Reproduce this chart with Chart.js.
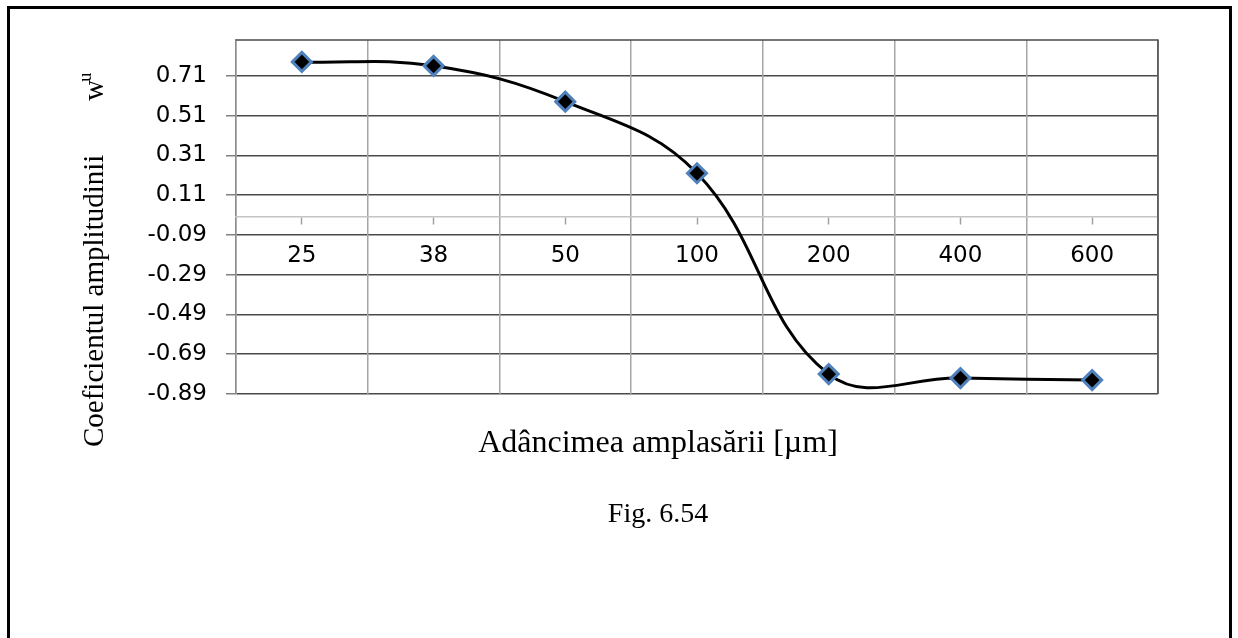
<!DOCTYPE html>
<html>
<head>
<meta charset="utf-8">
<script src="https://cdn.jsdelivr.net/npm/chart.js@4"></script>
<style>
  html, body { margin: 0; padding: 0; background: #ffffff; }
  canvas { display: block; }
</style>
</head>
<body>
<canvas id="c" width="1238" height="638"></canvas>
<script>
// Depth of placement (µm) and the amplitude coefficient w_u
const categories = ['25', '38', '50', '100', '200', '400', '600'];
const amplitude = [0.78, 0.76, 0.58, 0.22, -0.79, -0.81, -0.82];
const yTickValues = [-0.89, -0.69, -0.49, -0.29, -0.09, 0.11, 0.31, 0.51, 0.71];
const yTickLabels = ['-0.89', '-0.69', '-0.49', '-0.29', '-0.09', '0.11', '0.31', '0.51', '0.71'];
const yRange = [-0.89, 0.89];

const xTitle = 'Adâncimea amplasării [µm]';
const yTitle = 'Coeficientul amplitudinii';
const yTitleSymbol = 'w';
const yTitleIndex = 'u';
const caption = 'Fig. 6.54';

const SERIF = '"Liberation Serif", "Times New Roman", serif';
const SANS = '"DejaVu Sans", Verdana, sans-serif';

// Page frame, plot frame and the free text around the plot
const decorations = {
  id: 'decorations',
  beforeDraw(chart) {
    const ctx = chart.ctx;
    ctx.save();
    ctx.fillStyle = '#ffffff';
    ctx.fillRect(0, 0, chart.width, chart.height);
    ctx.restore();
  },
  afterDraw(chart) {
    const ctx = chart.ctx;
    const a = chart.chartArea;
    ctx.save();

    // plot frame: top and right edges
    ctx.strokeStyle = '#4a4a4a';
    ctx.lineWidth = 1.5;
    ctx.beginPath();
    ctx.moveTo(a.left, a.top);
    ctx.lineTo(a.right, a.top);
    ctx.lineTo(a.right, a.bottom);
    ctx.stroke();

    // page frame
    ctx.strokeStyle = '#000000';
    ctx.lineWidth = 3;
    ctx.beginPath();
    ctx.moveTo(8.5, chart.height + 5);
    ctx.lineTo(8.5, 7.5);
    ctx.lineTo(1230.5, 7.5);
    ctx.lineTo(1230.5, chart.height + 5);
    ctx.stroke();

    // x title and caption
    ctx.fillStyle = '#000000';
    ctx.textAlign = 'center';
    ctx.textBaseline = 'alphabetic';
    ctx.font = '32px ' + SERIF;
    ctx.fillText(xTitle, 658, 452);
    ctx.font = '28px ' + SERIF;
    ctx.fillText(caption, 658, 522);

    // rotated y title with index
    ctx.translate(103, 447);
    ctx.rotate(-Math.PI / 2);
    ctx.textAlign = 'left';
    ctx.font = '29px ' + SERIF;
    ctx.fillText(yTitle, 0, 0);
    let w = ctx.measureText(yTitle).width + 54;
    ctx.fillText(yTitleSymbol, w, 0);
    w += ctx.measureText(yTitleSymbol).width;
    ctx.font = '18px ' + SERIF;
    ctx.fillText(yTitleIndex, w - 2, -12);
    ctx.restore();
  }
};

new Chart(document.getElementById('c'), {
  type: 'line',
  data: {
    labels: categories,
    datasets: [{
      data: amplitude,
      borderColor: '#000000',
      borderWidth: 3,
      tension: 0.4,
      capBezierPoints: false,
      pointStyle: 'rectRot',
      pointRadius: 9.5,
      pointBorderWidth: 3,
      pointBackgroundColor: '#000000',
      pointBorderColor: '#4f81bd',
      clip: false
    }]
  },
  options: {
    responsive: false,
    devicePixelRatio: 1,
    animation: false,
    events: [],
    elements: { line: { capBezierPoints: false } },
    layout: { padding: { left: 120, top: 40, right: 80, bottom: 244 } },
    plugins: { legend: { display: false }, tooltip: { enabled: false } },
    scales: {
      y: {
        position: 'left',
        min: yRange[0],
        max: yRange[1],
        afterFit(scale) { scale.width = 116; },
        afterBuildTicks(scale) {
          scale.ticks = yTickValues.map(v => ({ value: v }));
        },
        ticks: {
          color: '#000000',
          font: { family: SANS, size: 23 },
          padding: 19,
          callback(value, index) { return yTickLabels[index]; }
        },
        grid: { color: '#4a4a4a', lineWidth: 1.5, tickLength: 10, tickColor: '#808080' },
        border: { display: true, color: '#8c8c8c', width: 1.5 }
      },
      x: {
        position: { y: 0 },
        offset: true,
        ticks: {
          color: '#000000',
          font: { family: SANS, size: 23 },
          padding: 18,
          maxRotation: 0,
          autoSkip: false
        },
        grid: { drawOnChartArea: false, offset: false, tickLength: 7, tickColor: '#a0a0a0', tickWidth: 1.5 },
        border: { display: true, color: '#c4c4c4', width: 1.5 }
      },
      xg: {
        type: 'category',
        labels: categories,
        position: { y: 0 },
        offset: true,
        ticks: { display: false },
        grid: { offset: true, color: '#a6a6a6', lineWidth: 1.5, drawTicks: false },
        border: { display: false }
      }
    }
  },
  plugins: [decorations]
});
</script>
</body>
</html>
